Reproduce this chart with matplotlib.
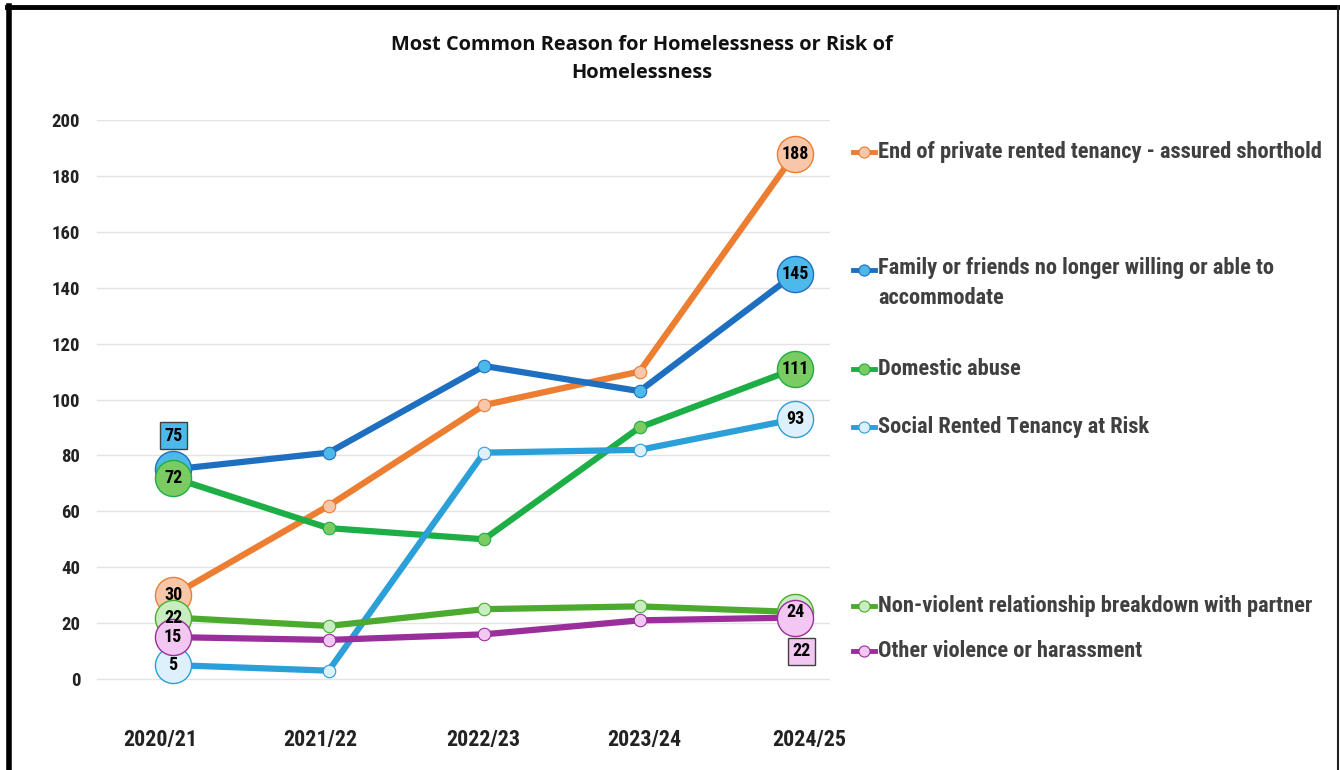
import matplotlib.pyplot as plt
from matplotlib.lines import Line2D
from matplotlib.transforms import ScaledTranslation

plt.rcParams['font.family'] = ['Roboto Condensed', 'DejaVu Sans']

years = ["2020/21", "2021/22", "2022/23", "2023/24", "2024/25"]

private_rented = [30, 62, 98, 110, 188]
family_friends = [75, 81, 112, 103, 145]
domestic_abuse = [72, 54, 50, 90, 111]
social_rented = [5, 3, 81, 82, 93]
non_violent = [22, 19, 25, 26, 24]
other_violence = [15, 14, 16, 21, 22]

names = [
    "End of private rented tenancy - assured shorthold",
    "Family or friends no longer willing or able to\naccommodate",
    "Domestic abuse",
    "Social Rented Tenancy at Risk",
    "Non-violent relationship breakdown with partner",
    "Other violence or harassment",
]
values = [private_rented, family_friends, domestic_abuse, social_rented, non_violent, other_violence]
colors = ["#ED7D31", "#1F6FC0", "#1DAE46", "#2A9FD8", "#4CAB2E", "#9A2E9A"]
fills = ["#F8C6A8", "#4DB9EA", "#7ACB62", "#DDF0FB", "#C8EDC0", "#F2C8F2"]
# legend text y position (pixels from top) for each series
legend_y = [152, 270, 369, 427, 606, 651]
# draw order (later on top)
draw_order = [0, 1, 2, 4, 5, 3]
# small horizontal shifts of the year labels (pixels)
label_shift = [-13, -8, -1, 5, 14]

W, H = 1340, 770
fig = plt.figure(figsize=(13.4, 7.7), dpi=100)
ax = fig.add_axes([97 / W, 1 - 707 / H, (830 - 97) / W, (707 - 120) / H])

x = list(range(len(years)))
for i in draw_order:
    v = values[i]
    ax.plot(x, v, color=colors[i], lw=4.5, solid_capstyle="round", zorder=2 + i * 0.1)
    ax.plot(x[1:-1], v[1:-1], "o", ms=9, mfc=fills[i], mec=colors[i], mew=0.8, zorder=3 + i * 0.1)
    ax.plot([x[0], x[-1]], [v[0], v[-1]], "o", ms=26, mfc=fills[i], mec=colors[i], mew=1, zorder=4 + i * 0.1)

# data labels at first and last points
for i in draw_order:
    v = values[i]
    for j in (0, len(v) - 1):
        val = v[j]
        if i == 1 and j == 0:
            ax.text(x[j], val + 12, str(val), ha="center", va="center", fontsize=13, fontweight="bold",
                    zorder=10, bbox=dict(boxstyle="square,pad=0.25", fc=fills[i], ec="#404040", lw=1))
        elif i == 5 and j == len(v) - 1:
            ax.text(x[j] + 0.04, val - 12, str(val), ha="center", va="center", fontsize=13, fontweight="bold",
                    zorder=10, bbox=dict(boxstyle="square,pad=0.25", fc=fills[i], ec="#404040", lw=1))
        else:
            ax.text(x[j], val, str(val), ha="center", va="center", fontsize=13, fontweight="bold",
                    color="black", zorder=10)

ax.set_xlim(-0.49, 4.225)
ax.set_ylim(-10, 200)
ax.set_yticks(range(0, 201, 20))
ax.set_xticks(x)
ax.set_xticklabels(years)
ax.grid(axis="y", color="#E4E4E4", lw=1)
ax.set_axisbelow(True)
for s in ax.spines.values():
    s.set_visible(False)
ax.tick_params(length=0)
ax.tick_params(axis="x", pad=16, labelsize=15.8, labelcolor="#222222")
ax.tick_params(axis="y", pad=12, labelsize=13.5, labelcolor="#222222")
for lbl in ax.get_xticklabels() + ax.get_yticklabels():
    lbl.set_fontweight("bold")
for lbl, dx in zip(ax.get_xticklabels(), label_shift):
    lbl.set_transform(lbl.get_transform() + ScaledTranslation(dx / 100, 0, fig.dpi_scale_trans))

# legend entries next to series ends
for i in range(len(names)):
    yf = 1 - legend_y[i] / H
    fig.add_artist(Line2D([853 / W, 875 / W], [yf, yf], color=colors[i], lw=3.5))
    fig.add_artist(Line2D([864 / W], [yf], marker="o", ms=8, mfc=fills[i], mec=colors[i], mew=0.8))
    if "\n" in names[i]:
        fig.text(878 / W, yf + 13 / H, names[i], ha="left", va="top",
                 fontsize=16.2, fontweight="bold", color="#404040", linespacing=1.45)
    else:
        fig.text(878 / W, yf, names[i], ha="left", va="center",
                 fontsize=16.2, fontweight="bold", color="#404040")

fig.text(642 / W, 1 - 59 / H, "Most Common Reason for Homelessness or Risk of\nHomelessness",
         ha="center", va="center", fontsize=14.4, fontweight="bold", color="#111111",
         family=["Open Sans", "DejaVu Sans"], linespacing=1.6)

# outer frame
fig.add_artist(Line2D([9 / W, 9 / W], [0, 1 - 6 / H], color="black", lw=4))
fig.add_artist(Line2D([7 / W, 1338 / W], [1 - 7 / H, 1 - 7 / H], color="black", lw=3.5))
fig.add_artist(Line2D([1338 / W, 1338 / W], [0, 1 - 6 / H], color="#222222", lw=1.5))

fig.savefig("out.png", dpi=100)
